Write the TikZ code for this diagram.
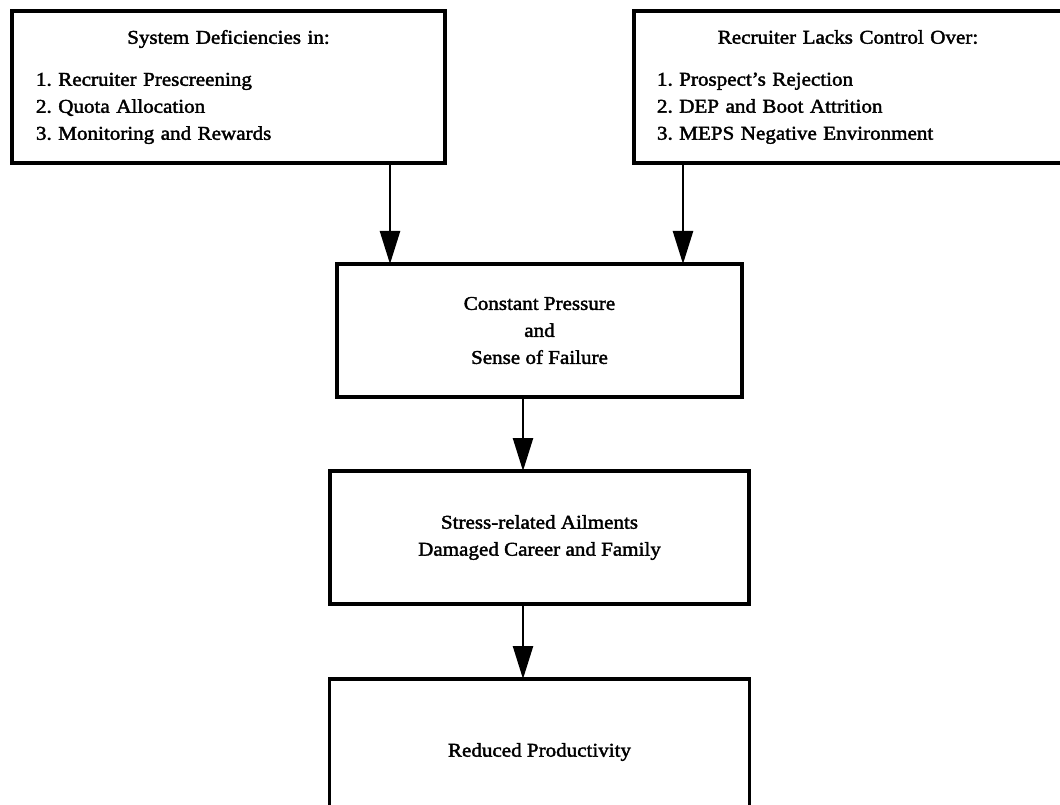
\documentclass[tikz,border=0pt]{standalone}
\usepackage{fontspec}
\setmainfont[FakeStretch=1.08,FakeBold=2]{Liberation Serif}
\frenchspacing
\usepackage{tikz}
\usetikzlibrary{arrows.meta}
\usetikzlibrary{calc}
\usetikzlibrary{positioning}
\tikzset{
    arrow/.style={-{Triangle[length=33pt,width=20pt]}, line width=2.5pt},
    box/.style = {
      draw,
      line width=3.5pt,
      rectangle,
      outer sep=0pt,
      align=center,
      font=\fontsize{19.5}{27}\selectfont
    },
    listbox/.style = {
      box,
      minimum height=152pt,
      inner xsep=24pt,
      align=left
    },
}

\begin{document}
\begin{tikzpicture}
      \useasboundingbox (0pt,0pt) rectangle (1060pt,-805pt);

      \node [
        listbox,
        minimum width=433pt,
        text width=385pt,
      ] (deficiencies) at (228.5pt,-87pt) {\makebox[\linewidth]{System Deficiencies in:}\\[15pt]
        1. Recruiter Prescreening\\
        2. Quota Allocation\\
        3. Monitoring and Rewards};

      \node [
        listbox,
        minimum width=428pt,
        inner xsep=23pt,
        text width=382pt,
      ] (lacks) at (848pt,-87pt) {\makebox[\linewidth]{Recruiter Lacks Control Over:}\\[15pt]
        1. Prospect's Rejection\\
        2. DEP and Boot Attrition\\
        3. MEPS Negative Environment};

      \node [
        box,
        minimum width=405pt,
        minimum height=133pt,
      ] (pressure) at (539.5pt,-330.5pt) {Constant Pressure\\and\\Sense of Failure};

      \node [
        box,
        minimum width=419pt,
        minimum height=133pt,
        below=74pt of pressure,
      ] (ailments) {Stress-related Ailments\\Damaged Career and Family};

      \node [
        box,
        minimum width=420pt,
        minimum height=146pt,
        below=75pt of ailments,
      ] (productivity) {Reduced Productivity};

      \draw[arrow] ([xshift=161.5pt]deficiencies.south) -- ([xshift=161.5pt]deficiencies.south |- pressure.north);
      \draw[arrow] ([xshift=-165pt]lacks.south) -- ([xshift=-165pt]lacks.south |- pressure.north);
      \draw[arrow] ([xshift=-16.5pt]pressure.south) -- ([xshift=-16.5pt]ailments.north);
      \draw[arrow] ([xshift=-16.5pt]ailments.south) -- ([xshift=-16.5pt]productivity.north);
    \end{tikzpicture}
\end{document}
